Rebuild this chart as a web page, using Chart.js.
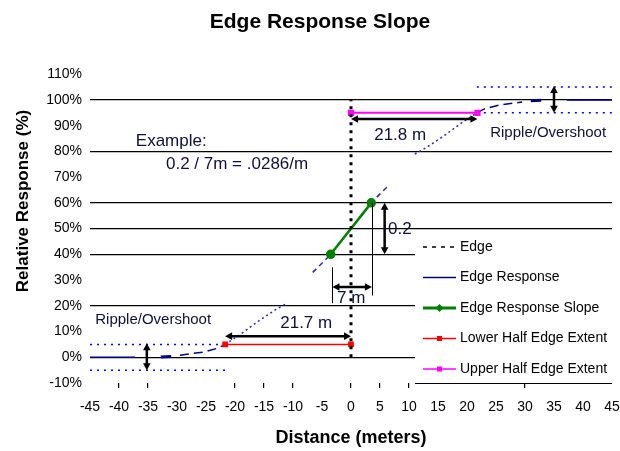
<!DOCTYPE html>
<html>
<head>
<meta charset="utf-8">
<title>Edge Response Slope</title>
<script src="https://cdn.jsdelivr.net/npm/chart.js@4.4.1/dist/chart.umd.min.js"></script>
<style>
  html, body { margin: 0; padding: 0; background: #fff; }
  #wrap { width: 620px; height: 451px; }
</style>
</head>
<body>
<div id="wrap"><canvas id="graf"></canvas></div>
<script>
// edge response curve (distance in m, response in %)
const respX = [-45, -37.2, -32.8, -31, -29.5, -25.5, -23, -21.7, -19, -16, -13, -11, -6.6, -5, -3.5, 0,
               3.5, 5, 6.6, 11, 13, 16, 19, 21.7, 23, 25.5, 29.5, 31, 32.8, 37.2, 45];
const respY = [0, 0, 0.1, 0.3, 0.8, 2, 3.5, 5, 9, 14, 18.5, 21, 33, 36.5, 40, 50,
               60, 63.5, 67, 79, 81.5, 86, 91, 95, 96.5, 98, 99.2, 99.7, 99.9, 100, 100];

const edgeX = [0, 0];
const edgeY = [0, 100];
const slopeX = [-3.5, 3.5];
const slopeY = [40, 60];
const lowerX = [-21.7, 0];
const lowerY = [5, 5];
const upperX = [0, 21.8];
const upperY = [95, 95];

// ripple / overshoot bands
const rippleLowX = [-45, -21.7];
const rippleLowHi = [5, 5];
const rippleLowLo = [-5, -5];
const rippleHighX = [21.7, 45];
const rippleHighHi = [105, 105];
const rippleHighLo = [95, 95];

// axes
const xTicksShown = [-40, -35, -20, -15, -10, 0, 5, 10, 30];
const yGridLevels = [0, 20, 40, 50, 60, 80, 100];
const yTitle = 'Relative Response (%)';

// annotations (data units)
const arrows = [
    [-21.7, 8.2, 0, 8.2],
    [0, 92.6, 21.8, 92.6],
    [5.8, 60, 5.8, 40],
    [-3.2, 27.3, 3.6, 27.3],
    [-35.2, 5.4, -35.2, -5],
    [35, 105.4, 35, 95]
];
const guides = [
    [3.7, 60, 24],
    [-3.2, 35, 21]
];
const notes = [
    {t: 'Example:', x: -37.1, y: 84, s: 17},
    {t: '0.2 / 7m = .0286/m', x: -31.9, y: 75, s: 17},
    {t: '21.7 m', x: -12.2, y: 13.2, s: 17},
    {t: '21.8 m', x: 4.0, y: 86.4, s: 17},
    {t: '0.2', x: 6.4, y: 49.8, s: 17},
    {t: '7 m', x: -2.4, y: 23, s: 17},
    {t: 'Ripple/Overshoot', x: -44.1, y: 14.4, s: 15},
    {t: 'Ripple/Overshoot', x: 24.0, y: 87.2, s: 15}
];

function pts(xs, ys) {
    return xs.map((v, i) => ({x: v, y: ys[i]}));
}

// curve is drawn by Excel with mixed dash runs, keep that look
function respSeg(ctx) {
    const a = Math.abs((ctx.p0.parsed.x + ctx.p1.parsed.x) / 2);
    if (a > 37.2) return {c: '#000080', d: [], w: 1.5};
    if (a > 32.8) return null;
    if (a > 31) return {c: '#000080', d: [], w: 3};
    if (a > 29.5) return null;
    if (a > 21.7) return {c: '#000080', d: [9, 5], w: 1.5};
    if (a > 11) return {c: '#2a2aa0', d: [2, 3], w: 1.5};
    if (a > 6.6) return null;
    return {c: '#2a2aa0', d: [5, 4], w: 1.5};
}

function head(ctx, tx, ty, ang) {
    const h = 7, w = 3.8;
    ctx.beginPath();
    ctx.moveTo(tx, ty);
    ctx.lineTo(tx - h * Math.cos(ang) + w * Math.sin(ang), ty - h * Math.sin(ang) - w * Math.cos(ang));
    ctx.lineTo(tx - h * Math.cos(ang) - w * Math.sin(ang), ty - h * Math.sin(ang) + w * Math.cos(ang));
    ctx.closePath();
    ctx.fill();
}

function arrow(ctx, x1, y1, x2, y2) {
    const ang = Math.atan2(y2 - y1, x2 - x1);
    ctx.lineWidth = 2.5;
    ctx.beginPath();
    ctx.moveTo(x1 + 5 * Math.cos(ang), y1 + 5 * Math.sin(ang));
    ctx.lineTo(x2 - 5 * Math.cos(ang), y2 - 5 * Math.sin(ang));
    ctx.stroke();
    head(ctx, x2, y2, ang);
    head(ctx, x1, y1, ang + Math.PI);
}

const legendRows = [
    {ds: 0, dash: [4, 5], w: 1.5},
    {ds: 1, dash: [], w: 1.5},
    {ds: 2, dash: [], w: 3, mark: 'diamond'},
    {ds: 3, dash: [], w: 1.5, mark: 'square'},
    {ds: 4, dash: [], w: 1.5, mark: 'square'}
];

const notesPlugin = {
    id: 'notes',
    beforeDatasetsDraw(chart) {
        const {ctx, scales: {x, y}} = chart;
        ctx.save();
        ctx.fillStyle = '#10103a';
        ctx.textBaseline = 'middle';
        ctx.textAlign = 'left';
        notes.forEach(n => {
            ctx.font = n.s + 'px "Liberation Sans", Arial, sans-serif';
            ctx.fillText(n.t, x.getPixelForValue(n.x), y.getPixelForValue(n.y));
        });
        ctx.restore();
    },
    afterDatasetsDraw(chart) {
        const {ctx, chartArea: ca, scales: {x, y}} = chart;
        const px = v => x.getPixelForValue(v), py = v => y.getPixelForValue(v);
        ctx.save();
        ctx.strokeStyle = '#000';
        ctx.fillStyle = '#000';
        ctx.lineWidth = 1;
        guides.forEach(g => {
            ctx.beginPath();
            ctx.moveTo(Math.round(px(g[0])) + 0.5, py(g[1]));
            ctx.lineTo(Math.round(px(g[0])) + 0.5, py(g[2]));
            ctx.stroke();
        });
        arrows.forEach(a => arrow(ctx, px(a[0]), py(a[1]), px(a[2]), py(a[3])));

        // legend box, sits inside the plot at lower right
        const L = Math.round(px(11)), T = Math.round(py(47)), R = ca.right, B = ca.bottom;
        ctx.fillStyle = '#fff';
        ctx.fillRect(L, T, R - L, B - T);
        ctx.strokeStyle = '#000';
        ctx.lineWidth = 1.2;
        ctx.beginPath();
        ctx.moveTo(L, B + 0.5);
        ctx.lineTo(R, B + 0.5);
        ctx.stroke();

        ctx.font = '14px "Liberation Sans", Arial, sans-serif';
        ctx.textBaseline = 'middle';
        ctx.textAlign = 'left';
        legendRows.forEach((r, i) => {
            const ds = chart.data.datasets[r.ds];
            const ry = T + 11 + i * 30.5;
            const x0 = L + 8, x1 = L + 41;
            ctx.strokeStyle = ds.borderColor;
            ctx.lineWidth = r.w;
            ctx.setLineDash(r.dash);
            ctx.beginPath();
            ctx.moveTo(x0, ry);
            ctx.lineTo(x1, ry);
            ctx.stroke();
            ctx.setLineDash([]);
            ctx.fillStyle = ds.borderColor;
            const mx = (x0 + x1) / 2;
            if (r.mark === 'diamond') {
                ctx.beginPath();
                ctx.moveTo(mx, ry - 4); ctx.lineTo(mx + 4, ry); ctx.lineTo(mx, ry + 4); ctx.lineTo(mx - 4, ry);
                ctx.closePath();
                ctx.fill();
            } else if (r.mark === 'square') {
                ctx.fillRect(mx - 2.5, ry - 2.5, 5, 5);
            }
            ctx.fillStyle = '#000';
            ctx.fillText(ds.label, L + 45, ry);
        });

        // y axis title, Excel has it centred a bit above the plot middle
        ctx.translate(23, 201);
        ctx.rotate(-Math.PI / 2);
        ctx.font = 'bold 17px "Liberation Sans", Arial, sans-serif';
        ctx.textAlign = 'center';
        ctx.fillStyle = '#000';
        ctx.fillText(yTitle, 0, 0);
        ctx.restore();
    }
};

document.addEventListener("DOMContentLoaded", () => {
    Chart.defaults.font.family = '"Liberation Sans", Arial, sans-serif';
    Chart.defaults.color = '#000';
    let cont = document.getElementById('graf').getContext('2d');
    let graf = new Chart(cont, {
        type: 'line',
        data: {
            datasets: [
                {
                    label: 'Edge',
                    data: pts(edgeX, edgeY),
                    borderColor: '#000',
                    borderWidth: 3,
                    borderDash: [3, 5],
                    pointRadius: 0,
                    order: 0
                },
                {
                    label: 'Edge Response',
                    data: pts(respX, respY),
                    borderColor: '#000080',
                    borderWidth: 1.5,
                    pointRadius: 0,
                    order: 5,
                    segment: {
                        borderColor: c => { const s = respSeg(c); return s ? s.c : 'rgba(0,0,0,0)'; },
                        borderDash: c => { const s = respSeg(c); return s ? s.d : []; },
                        borderWidth: c => { const s = respSeg(c); return s ? s.w : 1.5; }
                    }
                },
                {
                    label: 'Edge Response Slope',
                    data: pts(slopeX, slopeY),
                    borderColor: '#008000',
                    backgroundColor: '#008000',
                    borderWidth: 2.5,
                    pointRadius: 3.5,
                    pointStyle: 'circle',
                    order: 1
                },
                {
                    label: 'Lower Half Edge Extent',
                    data: pts(lowerX, lowerY),
                    borderColor: '#ff0000',
                    backgroundColor: '#ff0000',
                    borderWidth: 1.5,
                    pointRadius: 3,
                    pointStyle: 'rect',
                    order: 2
                },
                {
                    label: 'Upper Half Edge Extent',
                    data: pts(upperX, upperY),
                    borderColor: '#ff00ff',
                    backgroundColor: '#ff00ff',
                    borderWidth: 2,
                    pointRadius: 3,
                    pointStyle: 'rect',
                    order: 2
                },
                {label: 'ripple low +', data: pts(rippleLowX, rippleLowHi), borderColor: '#0000ff', borderWidth: 1.5, borderDash: [2, 5], pointRadius: 0, order: 6},
                {label: 'ripple low -', data: pts(rippleLowX, rippleLowLo), borderColor: '#0000ff', borderWidth: 1.5, borderDash: [2, 5], pointRadius: 0, order: 6},
                {label: 'ripple high +', data: pts(rippleHighX, rippleHighHi), borderColor: '#0000ff', borderWidth: 1.5, borderDash: [2, 5], pointRadius: 0, order: 6},
                {label: 'ripple high -', data: pts(rippleHighX, rippleHighLo), borderColor: '#0000ff', borderWidth: 1.5, borderDash: [2, 5], pointRadius: 0, order: 6}
            ]
        },
        options: {
            responsive: true,
            maintainAspectRatio: false,
            animation: false,
            layout: {padding: {left: 28, right: 8, top: 0, bottom: 0}},
            plugins: {
                legend: {display: false},
                tooltip: {enabled: false},
                title: {
                    display: true,
                    text: 'Edge Response Slope',
                    font: {size: 21, weight: 'bold'},
                    color: '#000',
                    padding: {top: 10, bottom: 39}
                }
            },
            scales: {
                x: {
                    type: 'linear',
                    min: -45,
                    max: 45,
                    ticks: {stepSize: 5, font: {size: 14}, color: '#000', padding: 11, maxRotation: 0},
                    grid: {
                        drawOnChartArea: false,
                        tickLength: 5,
                        lineWidth: 1.2,
                        color: c => (c.tick && xTicksShown.includes(c.tick.value)) ? '#000' : 'rgba(0,0,0,0)'
                    },
                    border: {display: false},
                    title: {display: true, text: 'Distance (meters)', font: {size: 18, weight: 'bold'}, color: '#000', padding: {top: 0, bottom: 2}},
                    afterFit: s => { s.height = 68; s.paddingRight = 0; s.paddingLeft = 0; }
                },
                y: {
                    min: -10,
                    max: 110,
                    ticks: {stepSize: 10, font: {size: 14}, color: '#000', padding: 8, callback: v => v + '%'},
                    grid: {
                        drawTicks: false,
                        lineWidth: 1.2,
                        color: c => (c.tick && yGridLevels.includes(c.tick.value)) ? '#000' : 'rgba(0,0,0,0)'
                    },
                    border: {display: false},
                    title: {display: false, text: yTitle},
                    afterFit: s => { s.width = 62; }
                }
            }
        },
        plugins: [notesPlugin]
    });
});
</script>
</body>
</html>
